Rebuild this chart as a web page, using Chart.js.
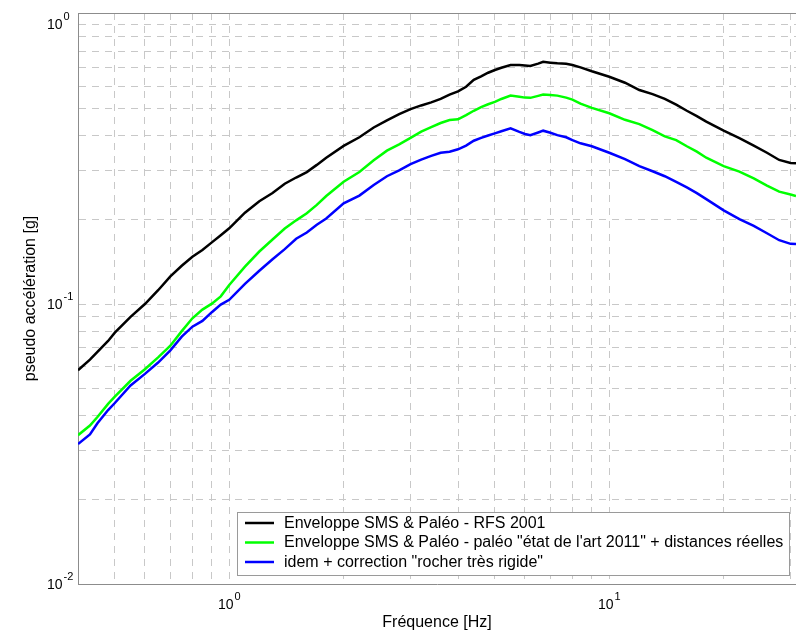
<!DOCTYPE html>
<html>
<head>
<meta charset="utf-8">
<script src="https://cdn.jsdelivr.net/npm/chart.js@4/dist/chart.umd.min.js"></script>
<style>
  html, body { margin: 0; padding: 0; background: #fff; }
  #wrap { width: 796px; height: 632px; }
</style>
</head>
<body>
<div id="wrap"><canvas id="spectre" width="796" height="632"></canvas></div>
<script>
// fréquences (Hz) et pseudo accélérations (g)
const freq = [0.4, 0.43, 0.45, 0.48, 0.5, 0.55, 0.6, 0.65, 0.7, 0.75, 0.8, 0.85, 0.9, 0.95,
  1.0, 1.1, 1.2, 1.3, 1.4, 1.5, 1.6, 1.7, 1.8, 2.0, 2.2, 2.4, 2.6, 2.8, 3.0, 3.2, 3.4, 3.6, 3.8,
  4.0, 4.2, 4.4, 4.6, 4.8, 5.0, 5.2, 5.5, 5.8, 6.0, 6.2, 6.5, 6.7, 7.0, 7.3, 7.7, 8.0, 8.4, 9.0,
  10, 11, 12, 13, 14, 15, 16, 17, 18, 20, 22, 24, 26, 28, 30, 31];

const rfs2001 = [0.058, 0.0633, 0.0675, 0.0738, 0.079, 0.090, 0.1, 0.112, 0.1255, 0.137, 0.1476, 0.156, 0.166, 0.176,
  0.1864, 0.212, 0.233, 0.249, 0.269, 0.283, 0.296, 0.314, 0.333, 0.367, 0.394, 0.427, 0.453, 0.477, 0.497, 0.512, 0.525, 0.540, 0.560,
  0.575, 0.597, 0.632, 0.650, 0.670, 0.685, 0.698, 0.714, 0.714, 0.711, 0.708, 0.722, 0.733, 0.728, 0.724, 0.721, 0.714, 0.700, 0.678,
  0.648, 0.617, 0.581, 0.562, 0.540, 0.515, 0.490, 0.469, 0.448, 0.416, 0.391, 0.368, 0.347, 0.327, 0.319, 0.318];

const etatArt2011 = [0.034, 0.0368, 0.0395, 0.044, 0.0467, 0.0532, 0.0585, 0.0645, 0.071, 0.080, 0.0889, 0.0955, 0.1003, 0.1065,
  0.117, 0.136, 0.154, 0.170, 0.186, 0.199, 0.211, 0.226, 0.243, 0.2735, 0.296, 0.326, 0.353, 0.372, 0.392, 0.413, 0.428, 0.443, 0.454,
  0.457, 0.473, 0.490, 0.505, 0.517, 0.527, 0.540, 0.555, 0.550, 0.546, 0.545, 0.554, 0.560, 0.558, 0.555, 0.546, 0.537, 0.520, 0.502,
  0.480, 0.455, 0.439, 0.418, 0.397, 0.385, 0.366, 0.350, 0.333, 0.311, 0.297, 0.281, 0.265, 0.252, 0.246, 0.243];

const rocherRigide = [0.0316, 0.0342, 0.0375, 0.0418, 0.0443, 0.0512, 0.0563, 0.0618, 0.0683, 0.0765, 0.083, 0.087, 0.0935, 0.0995,
  0.1035, 0.118, 0.1315, 0.1445, 0.157, 0.171, 0.180, 0.192, 0.202, 0.229, 0.244, 0.266, 0.286, 0.300, 0.316, 0.328, 0.338, 0.347, 0.350,
  0.357, 0.368, 0.383, 0.392, 0.400, 0.407, 0.414, 0.424, 0.412, 0.405, 0.401, 0.410, 0.416, 0.409, 0.401, 0.394, 0.385, 0.375, 0.366,
  0.347, 0.329, 0.311, 0.298, 0.286, 0.273, 0.261, 0.249, 0.237, 0.216, 0.201, 0.190, 0.179, 0.169, 0.164, 0.1637];

const seriesLabels = [
  'Enveloppe SMS & Paléo - RFS 2001',
  'Enveloppe SMS & Paléo - paléo "état de l\'art 2011" + distances réelles',
  'idem + correction "rocher très rigide"'
];

// graduations (toutes quadrillées, seules les puissances de 10 sont écrites)
const xTicks = [0.4, 0.5, 0.6, 0.7, 0.8, 0.9, 1, 2, 3, 4, 5, 6, 7, 8, 9, 10, 20, 30];
const yTicks = [0.01, 0.02, 0.03, 0.04, 0.05, 0.06, 0.07, 0.08, 0.09, 0.1, 0.2, 0.3, 0.4, 0.5, 0.6, 0.7, 0.8, 0.9, 1];
const xDecades = [1, 10];
const xExponents = ['0', '1'];
const yDecades = [0.01, 0.1, 1];
const yExponents = ['-2', '-1', '0'];

const toPoints = (ys) => freq.map((f, i) => ({ x: f, y: ys[i] }));

const FONT = '"Liberation Sans", Arial, sans-serif';
const gridColor = '#c8c8c8';
const axisColor = '#8c8c8c';

// étiquettes 10^n, cadre du haut et légende (façon matlab)
const matlabFrame = {
  id: 'matlabFrame',
  afterDatasetsDraw(chart) {
    const { ctx, chartArea, scales } = chart;
    ctx.save();
    ctx.strokeStyle = axisColor;
    ctx.lineWidth = 1;
    ctx.beginPath();
    ctx.moveTo(chartArea.left, chartArea.top + 0.5);
    ctx.lineTo(chartArea.right, chartArea.top + 0.5);
    ctx.stroke();

    ctx.fillStyle = '#000';
    ctx.textBaseline = 'alphabetic';
    ctx.textAlign = 'left';
    const base = '14px ' + FONT, sup = '11px ' + FONT;

    // axe x : "10" + exposant, centré sur la graduation
    xDecades.forEach((v, i) => {
      const px = scales.x.getPixelForValue(v);
      ctx.font = base;
      const w1 = ctx.measureText('10').width;
      ctx.font = sup;
      const w2 = ctx.measureText(xExponents[i]).width;
      const x0 = px - (w1 + w2 + 1) / 2;
      ctx.font = base;
      ctx.fillText('10', x0, 609);
      ctx.font = sup;
      ctx.fillText(xExponents[i], x0 + w1 + 1, 600);
    });

    // axe y : "10" aligné à droite, exposant à la suite
    yDecades.forEach((v, i) => {
      const py = scales.y.getPixelForValue(v);
      ctx.font = base;
      ctx.textAlign = 'right';
      ctx.fillText('10', 62.5, py + 5);
      ctx.font = sup;
      ctx.textAlign = 'left';
      ctx.fillText(yExponents[i], 63.5, py - 4);
    });

    // légende
    const bx = 237.5, by = 512.5, bw = 552, bh = 63;
    ctx.fillStyle = '#fff';
    ctx.fillRect(bx, by, bw, bh);
    ctx.strokeStyle = '#9a9a9a';
    ctx.lineWidth = 1;
    ctx.strokeRect(bx, by, bw, bh);
    ctx.font = '16px ' + FONT;
    ctx.textBaseline = 'middle';
    ctx.textAlign = 'left';
    chart.data.datasets.forEach((ds, i) => {
      const y = 523 + i * 19.5;
      ctx.strokeStyle = ds.borderColor;
      ctx.lineWidth = 2.5;
      ctx.beginPath();
      ctx.moveTo(245, y);
      ctx.lineTo(274, y);
      ctx.stroke();
      ctx.fillStyle = '#000';
      ctx.fillText(ds.label, 284, y + 0.5);
    });
    ctx.restore();
  }
};

new Chart(document.getElementById('spectre'), {
  type: 'line',
  data: {
    datasets: [
      { label: seriesLabels[0], data: toPoints(rfs2001), borderColor: '#000000' },
      { label: seriesLabels[1], data: toPoints(etatArt2011), borderColor: '#00ff00' },
      { label: seriesLabels[2], data: toPoints(rocherRigide), borderColor: '#0000ff' }
    ]
  },
  options: {
    responsive: false,
    animation: false,
    layout: { padding: { top: 13, right: 0, left: 0, bottom: 0 }, autoPadding: false },
    elements: {
      point: { radius: 0 },
      line: { borderWidth: 2.5, tension: 0 }
    },
    plugins: {
      legend: { display: false },
      tooltip: { enabled: false }
    },
    scales: {
      x: {
        type: 'logarithmic',
        min: 0.4,
        max: 31,
        afterBuildTicks: (scale) => { scale.ticks = xTicks.map(v => ({ value: v })); },
        afterFit: (scale) => {
          scale.height = 48;
          scale.paddingLeft = 0;
          scale.paddingRight = 0;
        },
        ticks: { autoSkip: false, maxRotation: 0, padding: 0, callback: () => '' },
        grid: { color: gridColor, lineWidth: 1, drawTicks: false },
        border: { color: axisColor, dash: [7, 6] },
        title: {
          display: true,
          text: 'Fréquence [Hz]',
          color: '#000',
          font: { family: FONT, size: 16 },
          padding: { top: 0, bottom: 0 }
        }
      },
      y: {
        type: 'logarithmic',
        min: 0.01,
        max: 1.095,
        afterBuildTicks: (scale) => { scale.ticks = yTicks.map(v => ({ value: v })); },
        afterFit: (scale) => {
          scale.width = 78;
          scale.paddingTop = 0;
          scale.paddingBottom = 0;
        },
        ticks: { autoSkip: false, padding: 0, callback: () => '' },
        grid: { color: gridColor, lineWidth: 1, drawTicks: false },
        border: { color: axisColor, dash: [7, 6] },
        title: {
          display: true,
          text: 'pseudo accélération [g]',
          color: '#000',
          font: { family: FONT, size: 16 },
          padding: { top: 21, bottom: 0 }
        }
      }
    }
  },
  plugins: [matlabFrame]
});
</script>
</body>
</html>
